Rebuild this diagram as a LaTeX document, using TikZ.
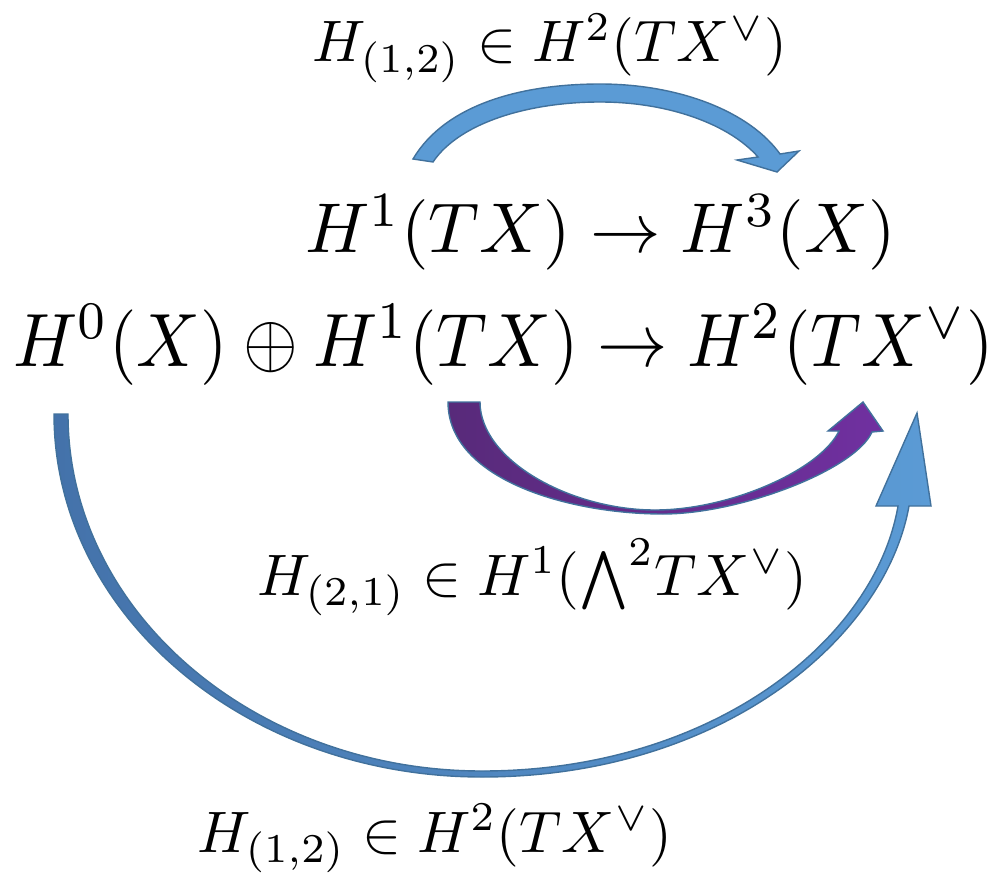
\documentclass[tikz,border=0pt]{standalone}
\usepackage{amsmath}
\definecolor{edgec}{HTML}{41719C}
\definecolor{lblue}{HTML}{5B9BD5}
\definecolor{dblue}{HTML}{4472AA}
\definecolor{dpurp}{HTML}{582A7A}
\definecolor{lpurp}{HTML}{7030A0}
\begin{document}
\begin{tikzpicture}[x=1pt,y=-1pt,
  lab/.style={anchor=base west,inner sep=0pt,scale=5.85},
  big/.style={anchor=base west,inner sep=0pt},
  arrowshape/.style={draw=edgec,line width=1.4pt,line join=miter}]
\useasboundingbox (0,0) rectangle (1003,872);

% texts
\node[lab] (top) at (311,62) {$H_{(1,2)}\in H^2(TX^\vee)$};
\node[big,scale=7.05] (mid) at (304,252) {$H^1(TX)\to H^3(X)$};
\node[big,xscale=7.03,yscale=7.55] (main) at (12,366) {$H^0(X)\oplus H^1(TX)\to H^2(TX^\vee)$};
\node[lab] (lab21) at (256,595) {$H_{(2,1)}\in H^1({\textstyle\bigwedge}^2 TX^\vee)$};
\node[lab] (bot) at (196,852) {$H_{(1,2)}\in H^2(TX^\vee)$};

% top arrow
\path[arrowshape,fill=lblue] (413,159) .. controls (445,105) and (520,84) .. (600,84)
  .. controls (680,84) and (750,112) .. (780,154)
  -- (799,151) -- (777,172) -- (737,160) -- (758,157)
  .. controls (730,125) and (670,102) .. (600,102)
  .. controls (530,102) and (460,122) .. (433,162) -- cycle;

% purple arrow
\path[arrowshape,left color=dpurp,right color=lpurp] (448,402)
  .. controls (448,480) and (570,514) .. (663,514)
  .. controls (740,514) and (855,470) .. (872,432)
  -- (883,431) -- (863,402) -- (828,431) -- (839,431)
  .. controls (820,470) and (730,510) .. (655,510)
  .. controls (570,510) and (480,460) .. (480,402) -- cycle;

% big arrow
\path[arrowshape,left color=dblue,right color=lblue] (54,414)
  .. controls (54,614) and (245,777) .. (482,777)
  .. controls (720,777) and (885,640) .. (909,506)
  -- (931,506) -- (917,413) -- (876,506) -- (898,506)
  .. controls (875,640) and (712,771) .. (482,771)
  .. controls (255,771) and (68,612) .. (68,414) -- cycle;
\end{tikzpicture}
\end{document}
